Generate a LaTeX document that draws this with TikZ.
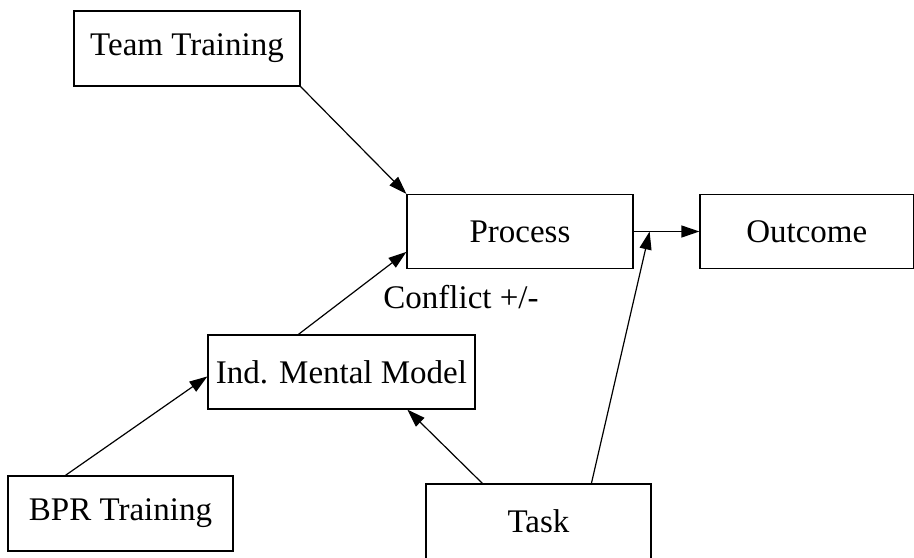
\documentclass[tikz,border=0pt]{standalone}
\usepackage{fontspec}
\setmainfont{Liberation Serif}
\usetikzlibrary{arrows.meta,calc}
\begin{document}
\begin{tikzpicture}[x=0.5pt,y=-0.5pt,
  box/.style={draw,line width=0.6pt,inner sep=0pt,font=\fontsize{16.5}{20}\selectfont},
  arr/.style={line width=0.6pt,-{Triangle[length=9pt,width=6pt]}}]
\useasboundingbox (0,0) rectangle (914,557);
\node[box,minimum width=113pt,minimum height=37.5pt] (team) at (187,48.5) {Team Training};
\node[box,minimum width=113pt,minimum height=37pt] (process) at (520,231.5) {Process};
\node[box,minimum width=106.75pt,minimum height=37pt] (outcome) at (806.75,231.5) {Outcome};
\node[box,minimum width=133.5pt,minimum height=37pt] (imm) at (341.5,372) {Ind. Mental Model};
\node[box,minimum width=112.5pt,minimum height=37.5pt] (bpr) at (120.5,513.5) {BPR Training};
\node[box,minimum width=112.5pt,minimum height=37.5pt] (task) at (538.5,521.5) {Task};
\node[anchor=base west,inner sep=0pt,font=\fontsize{16.5}{20}\selectfont] (conflict) at (383,308) {Conflict +/-};
\coordinate (j) at ($(process.east)+(16,0)$);
\draw[arr] (team.south east) -- (process.north west);
\draw[arr] ($(imm.north west)+(91,0)$) -- ($(process.north west)+(0,58)$);
\draw[arr] ($(bpr.north west)+(58,0)$) -- ($(imm.north west)+(0,42)$);
\draw[arr] ($(task.north west)+(57,0)$) -- ($(imm.south west)+(200,0)$);
\draw[arr] ($(task.north west)+(166,0)$) -- (j);
\draw[arr] (process.east) -- (outcome.west);
\end{tikzpicture}
\end{document}
